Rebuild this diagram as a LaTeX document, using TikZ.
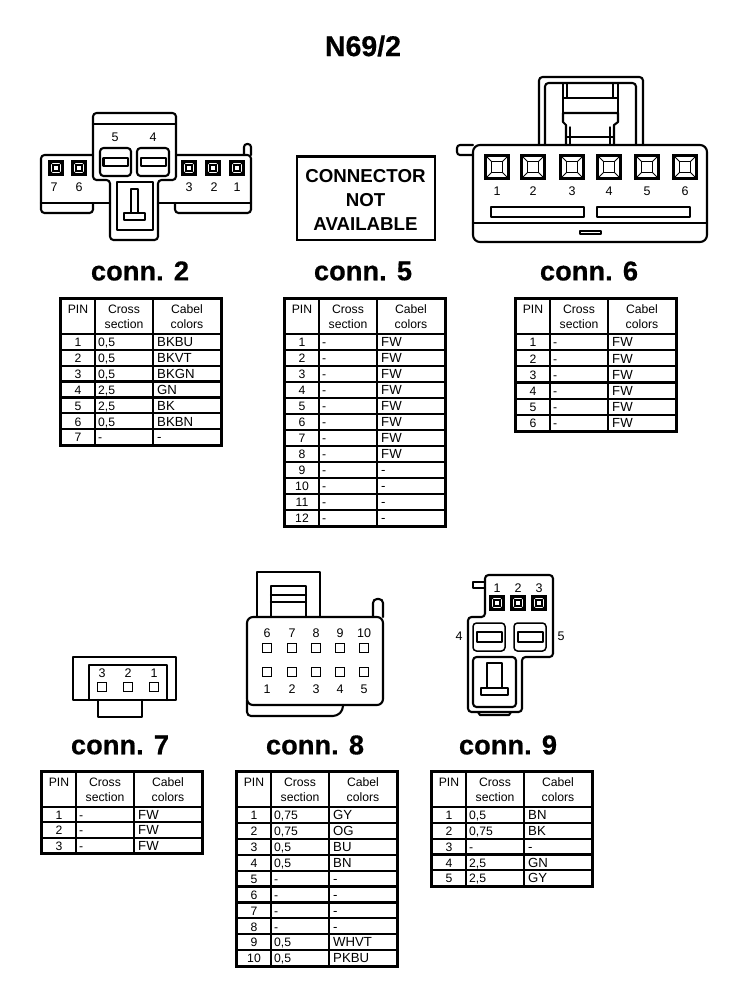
\documentclass[tikz,border=0pt]{standalone}
\usepackage{fontspec}
\setmainfont{Liberation Sans}
\newfontfamily\hvyfont[BoldFeatures={FakeBold=0.5}]{Liberation Sans}
\newcommand\ofive{0,5}
\newcommand\tfive{2,5}
\newcommand\osev{0,75}
\tikzset{
  ln/.style={line width=2.1pt,line join=round,line cap=round},
  rnd/.style={ln,rounded corners=3.5pt},
  gridline/.style={line width=2.2pt},
  tabframe/.style={line width=3pt},
  cell/.style={font=\fontsize{12.2}{14}\selectfont,inner sep=0pt,anchor=base},
  cellL/.style={cell,anchor=base west},
  cellK/.style={font=\fontsize{13.2}{14}\selectfont,inner sep=0pt,anchor=base west},
  lab/.style={font=\fontsize{12.5}{14}\selectfont,inner sep=0pt,anchor=center},
  heading/.style={font=\hvyfont\bfseries\fontsize{27.3}{30}\selectfont,inner sep=0pt,anchor=center},
  na/.style={font=\bfseries\fontsize{18.7}{22}\selectfont,inner sep=0pt,anchor=center},
}
% table: name, left x, top y, bottom y, number of rows, rows
\newcommand\conntab[6]{%
  \pgfmathsetmacro\xa{#2+35}\pgfmathsetmacro\xb{#2+93}\pgfmathsetmacro\xr{#2+161}%
  \pgfmathsetmacro\yh{#3+36}\pgfmathsetmacro\rh{(#4-#3-36)/#5}%
  \draw[tabframe] (#2,#3) rectangle (\xr,#4);
  \draw[gridline] (\xa,#3) -- (\xa,#4) (\xb,#3) -- (\xb,#4) (#2,\yh) -- (\xr,\yh);
  \pgfmathsetmacro\xpc{#2+18}\pgfmathsetmacro\xcc{#2+64}\pgfmathsetmacro\xkc{#2+127}%
  \node[cell] (#1-h1) at (\xpc,#3+15) {PIN};
  \node[cell] (#1-h2) at (\xcc,#3+15) {Cross};
  \node[cell] (#1-h3) at (\xcc,#3+30) {section};
  \node[cell] (#1-h4) at (\xkc,#3+15) {Cabel};
  \node[cell] (#1-h5) at (\xkc,#3+30) {colors};
  \foreach \pa/\pb/\pc [count=\i] in {#6}{
    \pgfmathsetmacro\yy{\yh+\i*\rh}
    \pgfmathsetmacro\ym{\yh+(\i-0.5)*\rh+4.8}
    \ifnum\i<#5 \draw[gridline] (#2,\yy) -- (\xr,\yy);\fi
    \node[cell] (#1-p\i) at (\xpc,\ym) {\pa};
    \node[cellL] (#1-s\i) at (\xa+3,\ym) {\pb};
    \node[cellK] (#1-k\i) at (\xb+4,\ym) {\pc};
  }
}
% pin with bevel: x, y, half size
\newcommand\bevpin[3]{%
  \draw[line width=2.4pt] (#1-#3,#2-#3) rectangle (#1+#3,#2+#3);
  \draw[line width=1.2pt] (#1-#3*.45,#2-#3*.45) rectangle (#1+#3*.45,#2+#3*.45);
  \draw[line width=1pt] (#1-#3,#2-#3) -- (#1-#3*.45,#2-#3*.45) (#1+#3,#2-#3) -- (#1+#3*.45,#2-#3*.45)
     (#1-#3,#2+#3) -- (#1-#3*.45,#2+#3*.45) (#1+#3,#2+#3) -- (#1+#3*.45,#2+#3*.45);
}
\newcommand\plainpin[2]{\draw[line width=1.7pt] (#1-4.5,#2-4.5) rectangle (#1+4.5,#2+4.5);}
\begin{document}
\begin{tikzpicture}[x=1pt,y=-1pt]
\useasboundingbox (0,0) rectangle (752,988);
\node[font=\hvyfont\bfseries\fontsize{28.5}{30}\selectfont,inner sep=0pt] (title) at (363,46) {N69/2};

% ---- conn 2 drawing
\draw[rnd] (93,155) -- (41,155) -- (41,213) -- (93,213) -- (93,203);
\draw[ln] (41,203) -- (110,203);
\draw[rnd] (176,155) -- (251,155) -- (251,213) -- (175,213) -- (175,203);
\draw[ln] (158,203) -- (251,203);
\draw[ln,rounded corners=3pt] (244,155) -- (244,144) -- (251,144) -- (251,155);
\draw[rnd] (93,180) -- (93,113) -- (176,113) -- (176,180) -- (158,180) -- (158,240) -- (110,240) -- (110,180) -- cycle;
\draw[ln] (93,124) -- (176,124);
\draw[rnd] (100,148) rectangle (131,176);
\draw[rnd] (137,148) rectangle (169,176);
\draw[ln] (103.5,158) rectangle (128,166);
\draw[ln] (141,158) rectangle (166,166);
\draw[ln] (117,182) rectangle (153,230);
\draw[ln,line width=1.5pt] (131,213) -- (131,189) -- (138,189) -- (138,213);
\draw[ln,line width=1.5pt] (124,213) rectangle (145,220);
\foreach \x in {56,79,189,213,237}{\bevpin{\x}{168}{6.5}}
\node[lab] (c2p5) at (115,137) {5};
\node[lab] (c2p4) at (153,137) {4};
\node[lab] (c2p7) at (54,187) {7};
\node[lab] (c2p6) at (79,187) {6};
\node[lab] (c2p3) at (189,187) {3};
\node[lab] (c2p2) at (214,187) {2};
\node[lab] (c2p1) at (237,187) {1};
\node[heading] (h2) at (140,271) {conn. 2};

% ---- not available
\draw[line width=2.2pt] (297,156.5) rectangle (435,240);
\node[na] (na1) at (365.5,176) {CONNECTOR};
\node[na] (na2) at (365.5,200) {NOT};
\node[na] (na3) at (365.5,224) {AVAILABLE};
\node[heading] (h5) at (363,271) {conn. 5};

% ---- conn 6 drawing
\draw[rnd] (539,145) -- (539,77) -- (643,77) -- (643,145);
\draw[rnd] (545,145) -- (545,83) -- (636,83) -- (636,145);
\draw[ln,line width=1.5pt] (563,83) -- (563,113) (567,83) -- (567,98) (613,83) -- (613,98) (618,83) -- (618,113) (563,98) -- (618,98);
\draw[ln] (566,145) -- (566,125) -- (563,122) -- (563,113) -- (618,113) -- (618,122) -- (614,125) -- (614,145);
\draw[ln,line width=1.5pt] (570,127) -- (570,145) (610,127) -- (610,145) (567,137) -- (613,137);
\draw[rnd,rounded corners=3pt] (473,145) -- (457,145) -- (457,155) -- (473,155);
\draw[ln,rounded corners=7pt] (473,145) -- (707,145) -- (707,242) -- (473,242) -- cycle;
\draw[ln] (473,223) -- (707,223);
\foreach \x in {497,533,572,609,647,685}{\bevpin{\x}{167}{11.5}}
\foreach \x/\t [count=\i] in {497/1,533/2,572/3,609/4,647/5,685/6}{
  \node[lab] (c6p\i) at (\x,191) {\t};
}
\draw[ln,line width=1.6pt] (491,207) rectangle (584,217);
\draw[ln,line width=1.6pt] (597,207) rectangle (690,217);
\draw[ln,line width=1.6pt] (580,231) rectangle (601,234);
\node[heading] (h6) at (589,271) {conn. 6};

% ---- tables top
\conntab{t2}{60}{298}{445}{7}{1/\ofive/BKBU,2/\ofive/BKVT,3/\ofive/BKGN,4/\tfive/GN,5/\tfive/BK,6/\ofive/BKBN,7/-/-}
\conntab{t5}{284}{298}{526}{12}{1/-/FW,2/-/FW,3/-/FW,4/-/FW,5/-/FW,6/-/FW,7/-/FW,8/-/FW,9/-/-,10/-/-,11/-/-,12/-/-}
\conntab{t6}{515}{298}{431}{6}{1/-/FW,2/-/FW,3/-/FW,4/-/FW,5/-/FW,6/-/FW}

% ---- conn 7 drawing
\draw[ln] (73,657) rectangle (176,700);
\draw[ln] (89,700) -- (89,665) -- (167,665) -- (167,700);
\draw[ln] (98,700) -- (98,717) -- (142,717) -- (142,700);
\foreach \x in {102,128,154}{\plainpin{\x}{687}}
\node[lab] (c7p3) at (102,673) {3};
\node[lab] (c7p2) at (128,673) {2};
\node[lab] (c7p1) at (154,673) {1};
\node[heading] (h7) at (120,745) {conn. 7};

% ---- conn 8 drawing
\draw[ln] (257,617) -- (257,572) -- (320,572) -- (320,617);
\draw[ln] (271,617) -- (271,586) -- (306,586) -- (306,617);
\draw[ln] (271,595) -- (306,595) (271,602) -- (306,602);
\draw[ln,rounded corners=4pt] (373,617) -- (373,599) -- (383,599) -- (383,617);
\draw[ln,rounded corners=6pt] (247,617) -- (383,617) -- (383,705) -- (247,705) -- cycle;
\draw[ln,rounded corners=4pt] (247,700) -- (247,716) -- (337,716) -- (343,710) -- (343,705);
\foreach \x/\t/\b [count=\i] in {267/6/1,292/7/2,316/8/3,340/9/4,364/10/5}{
  \plainpin{\x}{648}\plainpin{\x}{672}
  \node[lab] (c8t\i) at (\x,633) {\t};
  \node[lab] (c8b\i) at (\x,689) {\b};
}
\node[heading] (h8) at (315,745) {conn. 8};

% ---- conn 9 drawing
\draw[rnd] (485,617) -- (485,575) -- (553,575) -- (553,657) -- (522,657) -- (522,712) -- (468,712) -- (468,617) -- cycle;
\draw[ln] (485,582) -- (473,582) -- (473,588) -- (485,588);
\draw[ln] (478,712) -- (480,715) -- (509,715) -- (511,712);
\draw[rnd,line width=1.5pt] (473,623) rectangle (505,651);
\draw[rnd,line width=1.5pt] (514,623) rectangle (546,651);
\draw[ln] (477,632) rectangle (502,642);
\draw[ln] (518,632) rectangle (543,642);
\draw[rnd] (473,657) rectangle (516,707);
\draw[ln] (487,688) -- (487,663) -- (502,663) -- (502,688);
\draw[ln] (481,688) rectangle (508,695);
\foreach \x in {497,518,539}{\bevpin{\x}{603}{6.5}}
\node[lab] (c9p1) at (497,588) {1};
\node[lab] (c9p2) at (518,588) {2};
\node[lab] (c9p3) at (539,588) {3};
\node[lab] (c9p4) at (459,636) {4};
\node[lab] (c9p5) at (561,636) {5};
\node[heading] (h9) at (508,745) {conn. 9};

% ---- tables bottom
\conntab{t7}{41}{771}{853}{3}{1/-/FW,2/-/FW,3/-/FW}
\conntab{t8}{236}{771}{966}{10}{1/\osev/GY,2/\osev/OG,3/\ofive/BU,4/\ofive/BN,5/-/-,6/-/-,7/-/-,8/-/-,9/\ofive/WHVT,10/\ofive/PKBU}
\conntab{t9}{431}{771}{886}{5}{1/\ofive/BN,2/\osev/BK,3/-/-,4/\tfive/GN,5/\tfive/GY}
\end{tikzpicture}
\end{document}
